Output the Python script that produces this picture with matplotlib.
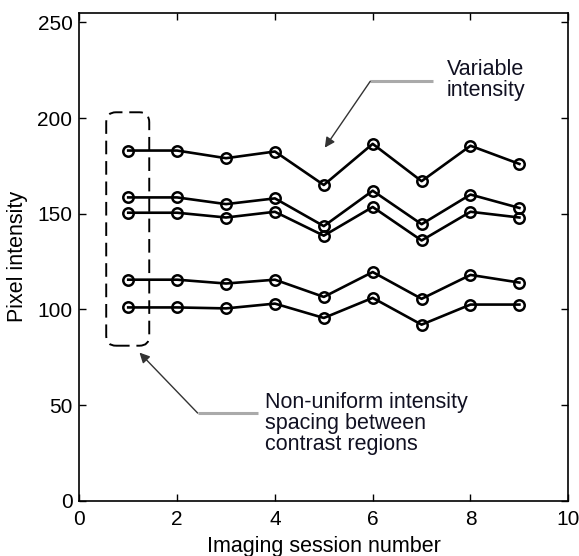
import matplotlib
matplotlib.use("Agg")
import matplotlib.pyplot as plt
from matplotlib.patches import FancyBboxPatch
import numpy as np

plt.rcParams['font.family'] = ['Liberation Sans', 'DejaVu Sans']

# imaging sessions and intensity of each contrast region
sessions = [1, 2, 3, 4, 5, 6, 7, 8, 9]
region_1 = [183, 183, 179, 182.5, 165, 186.5, 167, 185.5, 176]
region_2 = [158.5, 158.5, 155, 158, 143.5, 162, 144.5, 160, 153]
region_3 = [150.5, 150.5, 148, 151, 138.5, 153.5, 136, 151, 148]
region_4 = [115.5, 115.5, 113.5, 115.5, 106.5, 119.5, 105.5, 118, 114]
region_5 = [101, 101, 100.5, 103, 95.5, 106, 92, 102.5, 102.5]
regions = [region_1, region_2, region_3, region_4, region_5]

x_ticks = [0, 2, 4, 6, 8, 10]
y_ticks = [0, 50, 100, 150, 200, 250]

fig = plt.figure(figsize=(5.79, 5.56), dpi=100)
ax = fig.add_axes([0.137, 0.0995, 0.8445, 0.8775])

for r in regions:
    ax.plot(sessions, r, color='black', linewidth=1.9, marker='o',
            markersize=7.5, markerfacecolor='none', markeredgewidth=1.8,
            markeredgecolor='black')

# dashed rounded box around first session
box = FancyBboxPatch((0.55, 81), 0.88, 122,
                     boxstyle="round,pad=0,rounding_size=0.2",
                     mutation_aspect=26, fill=False, edgecolor='black',
                     linewidth=1.4, linestyle=(0, (7, 3.5)))
ax.add_patch(box)

ax.set_xlim(0, 10)
ax.set_ylim(0, 255)
ax.set_xticks(x_ticks)
ax.set_yticks(y_ticks)
ax.tick_params(direction='in', top=True, right=True, length=5, width=1,
               labelsize=15)
ax.tick_params(axis='x', pad=7)
ax.tick_params(axis='y', pad=5)
for s in ax.spines.values():
    s.set_linewidth(1.2)

ax.set_xlabel('Imaging session number', fontsize=15.5, labelpad=5)
ax.set_ylabel('Pixel intensity', fontsize=15.5)
ax.yaxis.set_label_coords(-0.105, 0.5)

# annotations
ax.plot([5.95, 7.23], [219.2, 219.2], color='#aaaaaa', linewidth=2.2,
        solid_capstyle='butt')
ax.annotate('', xy=(5.02, 184.5), xytext=(5.95, 219.2),
            arrowprops=dict(arrowstyle='-|>', color='#333333', lw=1.0,
                            mutation_scale=15, shrinkA=0, shrinkB=0))
ax.text(7.52, 220, 'Variable\nintensity', fontsize=15.5, ha='left',
        va='center', linespacing=1.0, color='#111122')

ax.plot([2.42, 3.65], [45.8, 45.8], color='#aaaaaa', linewidth=2.2,
        solid_capstyle='butt')
ax.annotate('', xy=(1.23, 77.4), xytext=(2.42, 45.8),
            arrowprops=dict(arrowstyle='-|>', color='#333333', lw=1.0,
                            mutation_scale=15, shrinkA=0, shrinkB=0))
ax.text(3.79, 40.5, 'Non-uniform intensity\nspacing between\ncontrast regions',
        fontsize=15.5, ha='left', va='center', linespacing=1.0,
        color='#111122')

fig.savefig('out.png', dpi=100)
